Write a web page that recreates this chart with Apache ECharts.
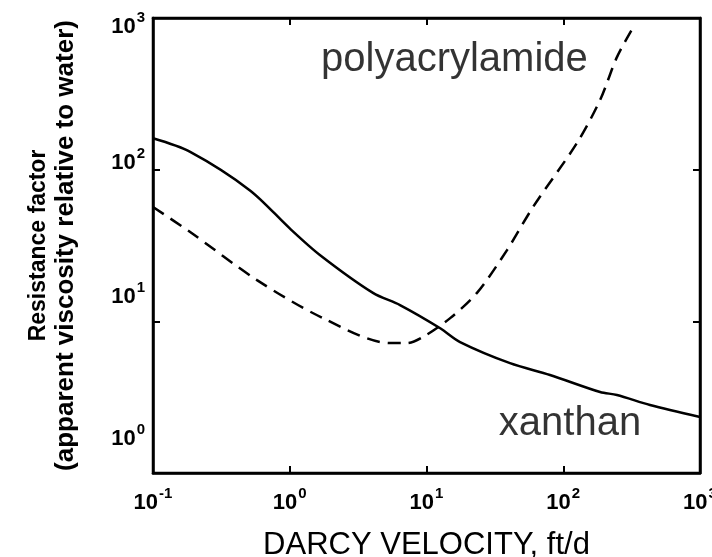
<!DOCTYPE html>
<html><head><meta charset="utf-8">
<script src="https://cdn.jsdelivr.net/npm/echarts@6/dist/echarts.min.js"></script>
<style>html,body{margin:0;padding:0;background:#fff}#c{width:712px;height:557px}</style>
</head><body><div id="c"></div>
<script>
// Darcy velocity (ft/d) and resistance factor
const xanthanX = [0.1, 0.187, 0.512, 1.0, 1.66, 4.06, 6.4, 12.6, 17.6, 40.8, 80, 186, 247, 431, 1000];
const xanthanY = [161, 131, 73, 41, 27.4, 15.4, 12.8, 9.0, 7.3, 5.3, 4.43, 3.42, 3.27, 2.81, 2.34];
const pamX = [0.1, 0.187, 0.576, 1.75, 5.4, 7.2, 9.4, 14.9, 23.4, 38.8, 60.1, 126, 186, 247, 325];
const pamY = [56.7, 38.8, 18.7, 10.5, 7.19, 7.19, 7.88, 10.5, 15.4, 29.5, 56.7, 150, 288, 552, 870];
const labelNames = ['polyacrylamide', 'xanthan'];
const labelX = [16, 112];
const labelY = [528, 2.1];
const xTicks = [0.1, 1, 10, 100, 1000];
const yTicks = [1, 10, 100, 1000];

const FONT = '"Liberation Sans", Arial, Helvetica, sans-serif';
const zip = (a, b) => a.map((v, i) => [v, b[i]]);

// y tick labels in the scan sit a little off their ticks (px, + = down)
const yLabelShift = { 0: -34, 1: -24, 2: -7, 3: 9 };
const SUP_RISE = 9;
const digitStyle = (top, bottom) => ({ fontFamily: FONT, fontWeight: 'bold', fontSize: 22, color: '#000', padding: [top, 0, bottom, 0] });
const supStyle = (top, bottom) => ({ fontFamily: FONT, fontWeight: 'bold', fontSize: 15, color: '#000', padding: [top, 0, bottom, 1] });
const yRich = {};
Object.keys(yLabelShift).forEach(e => {
  const off = yLabelShift[e];
  yRich['d' + e] = off >= 0 ? digitStyle(2 * off, 0) : digitStyle(0, -2 * off);
  const so = off - SUP_RISE;
  yRich['s' + e] = so >= 0 ? supStyle(2 * so, 0) : supStyle(0, -2 * so);
});
const xRich = { d: digitStyle(0, 0), s: supStyle(0, 2 * SUP_RISE) };
const exponent = v => Math.round(Math.log10(v));
const yLabel = v => { const e = exponent(v); return '{d' + e + '|10}{s' + e + '|' + e + '}'; };
const xLabel = v => '{d|10}{s|' + exponent(v) + '}';

const chart = echarts.init(document.getElementById('c'), null, { renderer: 'canvas' });
const axisCommon = {
  type: 'log', logBase: 10,
  axisLine: { show: true, lineStyle: { color: '#000', width: 2.5 } },
  axisTick: { show: true, inside: true, length: 7, lineStyle: { color: '#000', width: 2 } },
  splitLine: { show: false },
  minorTick: { show: false }
};
chart.setOption({
  animation: false,
  backgroundColor: '#fff',
  grid: { left: 153, right: 12, top: 18, bottom: 84, show: true, borderColor: '#000', borderWidth: 2.5, containLabel: false, outerBoundsMode: 'none' },
  xAxis: [
    Object.assign({}, axisCommon, {
      min: xTicks[0], max: xTicks[xTicks.length - 1], position: 'bottom',
      axisLabel: { formatter: xLabel, rich: xRich, margin: 13 },
      name: 'DARCY VELOCITY, ft/d', nameLocation: 'middle', nameGap: 57,
      nameTextStyle: { fontFamily: FONT, fontSize: 31, color: '#000' }
    }),
    Object.assign({}, axisCommon, {
      min: xTicks[0], max: xTicks[xTicks.length - 1], position: 'top',
      axisLabel: { show: false }
    })
  ],
  yAxis: [
    Object.assign({}, axisCommon, {
      min: yTicks[0], max: yTicks[yTicks.length - 1], position: 'left',
      axisLabel: { formatter: yLabel, rich: yRich, margin: 8 },
      name: 'Resistance factor\n{b|(apparent viscosity relative to water)}',
      nameLocation: 'middle', nameGap: 74,
      nameTextStyle: {
        fontFamily: FONT, fontWeight: 'bold', fontSize: 23, color: '#000', lineHeight: 27,
        rich: {
          b: { fontFamily: FONT, fontWeight: 'bold', fontSize: 26, color: '#000', lineHeight: 27 }
        }
      }
    }),
    Object.assign({}, axisCommon, {
      min: yTicks[0], max: yTicks[yTicks.length - 1], position: 'right',
      axisLabel: { show: false }
    })
  ],
  series: [
    {
      name: 'xanthan', type: 'line', data: zip(xanthanX, xanthanY),
      showSymbol: false, smooth: 0.3, silent: true,
      lineStyle: { color: '#000', width: 2.5, type: 'solid' }
    },
    {
      name: 'polyacrylamide', type: 'line', data: zip(pamX, pamY),
      showSymbol: false, smooth: 0.3, silent: true,
      lineStyle: { color: '#000', width: 2.5, type: [13, 8] }
    },
    {
      name: 'labels', type: 'scatter', silent: true,
      data: labelNames.map((n, i) => [labelX[i], labelY[i], n]),
      symbolSize: 1, itemStyle: { color: 'rgba(0,0,0,0)' },
      label: {
        show: true, position: 'inside', formatter: p => p.data[2],
        fontFamily: FONT, fontSize: 40, color: '#000'
      }
    }
  ]
});
</script>
</body></html>
